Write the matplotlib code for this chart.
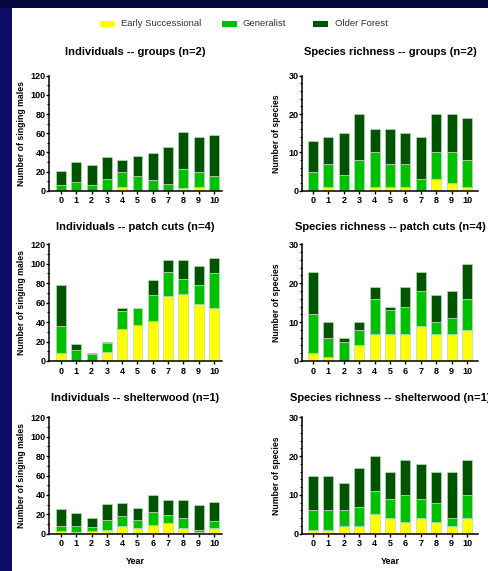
import matplotlib
matplotlib.use("Agg")
import matplotlib.pyplot as plt
from matplotlib.patches import Rectangle
from matplotlib.ticker import MultipleLocator
import numpy as np

plt.rcParams['font.family'] = ['Liberation Sans', 'DejaVu Sans']

years = list(range(11))
guilds = ["Early Successional", "Generalist", "Older Forest"]
colors = ["#ffff00", "#00c000", "#005400"]

# individuals -- groups (n=2)
ind_groups_early = [0, 0, 0, 0, 4, 0, 0, 0, 3, 4, 0]
ind_groups_gen = [6, 9, 6, 12, 15, 15, 11, 7, 20, 16, 15]
ind_groups_old = [15, 21, 21, 23, 13, 21, 28, 39, 38, 36, 43]

# species richness -- groups (n=2)
sp_groups_early = [0, 1, 0, 0, 1, 1, 1, 0, 3, 2, 1]
sp_groups_gen = [5, 6, 4, 8, 9, 6, 6, 3, 7, 8, 7]
sp_groups_old = [8, 7, 11, 12, 6, 9, 8, 11, 10, 10, 11]

# individuals -- patch cuts (n=4)
ind_patch_early = [8, 0, 0, 9, 33, 37, 41, 67, 69, 59, 55]
ind_patch_gen = [28, 11, 7, 9, 18, 17, 27, 25, 15, 19, 35]
ind_patch_old = [42, 6, 1, 2, 3, 1, 15, 12, 20, 20, 16]

# species richness -- patch cuts (n=4)
sp_patch_early = [2, 1, 0, 4, 7, 7, 7, 9, 7, 7, 8]
sp_patch_gen = [10, 5, 5, 4, 9, 6, 7, 9, 3, 4, 8]
sp_patch_old = [11, 4, 1, 2, 3, 1, 5, 5, 7, 7, 9]

# individuals -- shelterwood (n=1)
ind_shelter_early = [3, 2, 3, 4, 8, 6, 9, 11, 6, 2, 6]
ind_shelter_gen = [5, 6, 4, 10, 10, 8, 13, 8, 10, 2, 7]
ind_shelter_old = [17, 13, 9, 17, 14, 12, 18, 16, 19, 26, 20]

# species richness -- shelterwood (n=1)
sp_shelter_early = [1, 1, 2, 2, 5, 4, 3, 4, 3, 2, 4]
sp_shelter_gen = [5, 5, 4, 5, 6, 5, 7, 5, 5, 2, 6]
sp_shelter_old = [9, 9, 7, 10, 9, 7, 9, 9, 8, 12, 9]

panels = [
    ("Individuals -- groups (n=2)", [ind_groups_early, ind_groups_gen, ind_groups_old], "ind"),
    ("Species richness -- groups (n=2)", [sp_groups_early, sp_groups_gen, sp_groups_old], "sp"),
    ("Individuals -- patch cuts (n=4)", [ind_patch_early, ind_patch_gen, ind_patch_old], "ind"),
    ("Species richness -- patch cuts (n=4)", [sp_patch_early, sp_patch_gen, sp_patch_old], "sp"),
    ("Individuals -- shelterwood (n=1)", [ind_shelter_early, ind_shelter_gen, ind_shelter_old], "ind"),
    ("Species richness -- shelterwood (n=1)", [sp_shelter_early, sp_shelter_gen, sp_shelter_old], "sp"),
]

W, H = 489, 571
fig = plt.figure(figsize=(W / 100, H / 100), dpi=100, facecolor="#080840")
# blue side strip + white slide area behind the charts
fig.patches.append(Rectangle((0, 0), 12 / W, (H - 8) / H, transform=fig.transFigure,
                             facecolor="#0c0c66", edgecolor="none", zorder=-10))
fig.patches.append(Rectangle((12 / W, 0), 1, (H - 8) / H, transform=fig.transFigure,
                             facecolor="white", edgecolor="none", zorder=-10))

col_x = [(49, 222, -0.78, 10.52), (302, 478, -0.71, 10.71)]
row_y = [(75.7, 190.7, 15), (244.3, 361, 10), (417.3, 533.7, 11.5)]

for i, (title, series, kind) in enumerate(panels):
    r, c = divmod(i, 2)
    x0, x1, xl, xr = col_x[c]
    yt, yb, pad = row_y[r]
    ax = fig.add_axes([x0 / W, (H - yb) / H, (x1 - x0) / W, (yb - yt) / H])
    ax.set_facecolor("none")
    bottom = np.zeros(len(years))
    for vals, col in zip(series, colors):
        ax.bar(years, vals, width=0.65, bottom=bottom, color=col,
               edgecolor="#b8dcb8", linewidth=0.5)
        bottom += np.array(vals)
    ax.set_xlim(xl, xr)
    if kind == "ind":
        ax.set_ylim(0, 120)
        ax.yaxis.set_major_locator(MultipleLocator(20))
        ax.yaxis.set_minor_locator(MultipleLocator(10))
        ax.set_ylabel("Number of singing males", fontsize=6.3, fontweight="bold", labelpad=3)
    else:
        ax.set_ylim(0, 30)
        ax.yaxis.set_major_locator(MultipleLocator(10))
        ax.yaxis.set_minor_locator(MultipleLocator(2))
        ax.set_ylabel("Number of species", fontsize=6.3, fontweight="bold", labelpad=5)
    ax.set_xticks(years)
    for s in ["top", "right"]:
        ax.spines[s].set_visible(False)
    for s in ["left", "bottom"]:
        ax.spines[s].set_linewidth(1.1)
    ax.tick_params(axis="y", which="major", length=2, width=1, labelsize=6.5, pad=0.5)
    ax.tick_params(axis="x", which="major", length=2, width=1, labelsize=6.5, pad=2)
    ax.tick_params(axis="y", which="minor", length=1.5, width=0.8)
    for lab in ax.get_xticklabels() + ax.get_yticklabels():
        lab.set_fontweight("bold")
    ax.set_title(title, fontsize=8, fontweight="bold", pad=pad)
    if r == 2:
        ax.set_xlabel("Year", fontsize=6.5, fontweight="bold", labelpad=6)

# legend drawn by hand so the gaps match the slide
leg_patch_x = [100, 222, 313]
leg_text_x = [121, 243, 335]
for g, col, px, tx in zip(guilds, colors, leg_patch_x, leg_text_x):
    fig.patches.append(Rectangle((px / W, (H - 26.5) / H), 15 / W, 5 / H,
                                 transform=fig.transFigure, facecolor=col, edgecolor="none"))
    fig.text(tx / W, (H - 24) / H, g, fontsize=6.8, color="#333333", va="center", ha="left")

fig.savefig("out.png", dpi=100, facecolor=fig.get_facecolor())
